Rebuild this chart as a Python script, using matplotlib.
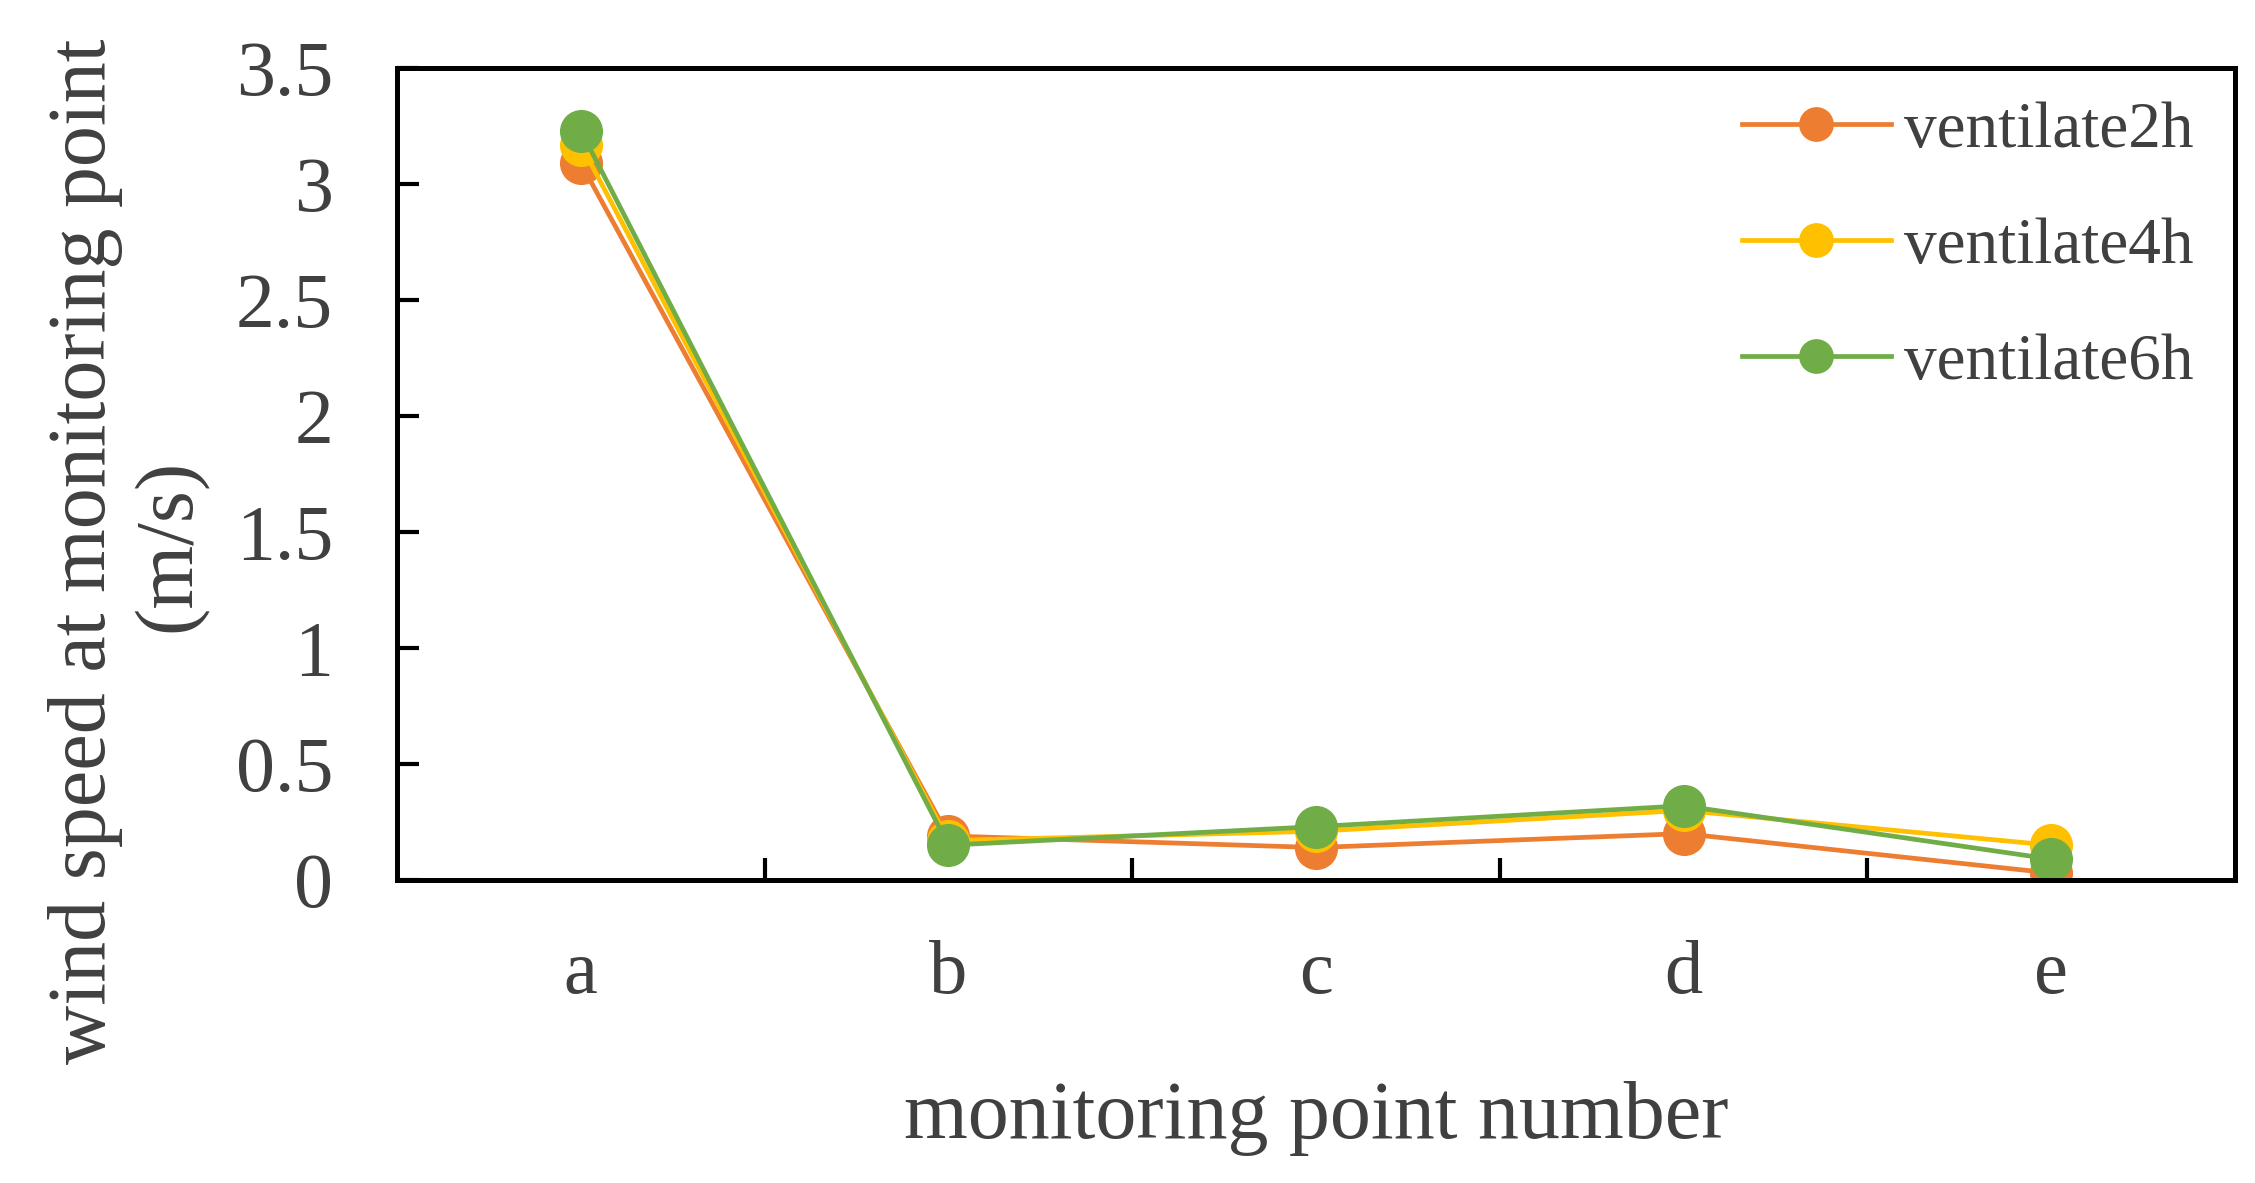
import matplotlib
matplotlib.use("Agg")
import matplotlib.pyplot as plt

# 监测点及各通风时间下的风速 (m/s)
points = ["a", "b", "c", "d", "e"]
ventilate2h = [3.09, 0.19, 0.14, 0.20, 0.03]
ventilate4h = [3.17, 0.17, 0.21, 0.30, 0.15]
ventilate6h = [3.23, 0.15, 0.23, 0.32, 0.09]
series_names = ["ventilate2h", "ventilate4h", "ventilate6h"]
y_ticks = [0, 0.5, 1, 1.5, 2, 2.5, 3, 3.5]
y_tick_labels = ["0", "0.5", "1", "1.5", "2", "2.5", "3", "3.5"]

colors = ["#ED7D31", "#FFC000", "#70AD47"]
text_color = "#404040"
plt.rcParams["font.family"] = ["Liberation Serif", "DejaVu Serif"]

fig = plt.figure(figsize=(22.55, 11.83), dpi=100)
ax = fig.add_axes([397 / 2255, 1 - 880 / 1183, (2235 - 397) / 2255, (880 - 68) / 1183])

x = list(range(len(points)))
for values, name, c in zip([ventilate2h, ventilate4h, ventilate6h], series_names, colors):
    ax.plot(x, values, "-o", color=c, lw=3.4, markersize=30, label=name)

ax.set_xlim(-0.5, len(points) - 0.5)
ax.set_ylim(0, 3.5)

# x轴: 类别标签居中, 刻度线在类别之间
ax.set_xticks(x)
ax.set_xticklabels(points)
ax.set_xticks([i + 0.5 for i in range(len(points) - 1)], minor=True)
ax.tick_params(axis="x", which="major", length=0, pad=43, labelsize=55, labelcolor=text_color)
ax.tick_params(axis="x", which="minor", direction="in", length=16, width=3, color="black")

ax.set_yticks(y_ticks)
ax.set_yticklabels(y_tick_labels)
ax.tick_params(axis="y", direction="in", length=16, width=3, pad=46, labelsize=56, labelcolor=text_color)

for s in ax.spines.values():
    s.set_linewidth(3.6)
    s.set_color("black")

ax.set_xlabel("monitoring point number", fontsize=59, color=text_color, labelpad=52)

# y轴标题分两行, 单独放置
fig.text(85 / 2255, 1 - 551 / 1183, "wind speed at monitoring point", rotation=90,
         ha="center", va="center", fontsize=59, color=text_color)
fig.text(170 / 2255, 1 - 545 / 1183, "(m/s)", rotation=90,
         ha="center", va="center", fontsize=59, color=text_color)

ax.legend(loc="upper left", bbox_to_anchor=((1742 - 397) / 1838, 0.959), frameon=False,
          fontsize=47, labelcolor=text_color, handlelength=2.28, handletextpad=0.2,
          labelspacing=0.86, markerscale=0.8, borderpad=0, borderaxespad=0)

fig.savefig("out.png", dpi=100)
